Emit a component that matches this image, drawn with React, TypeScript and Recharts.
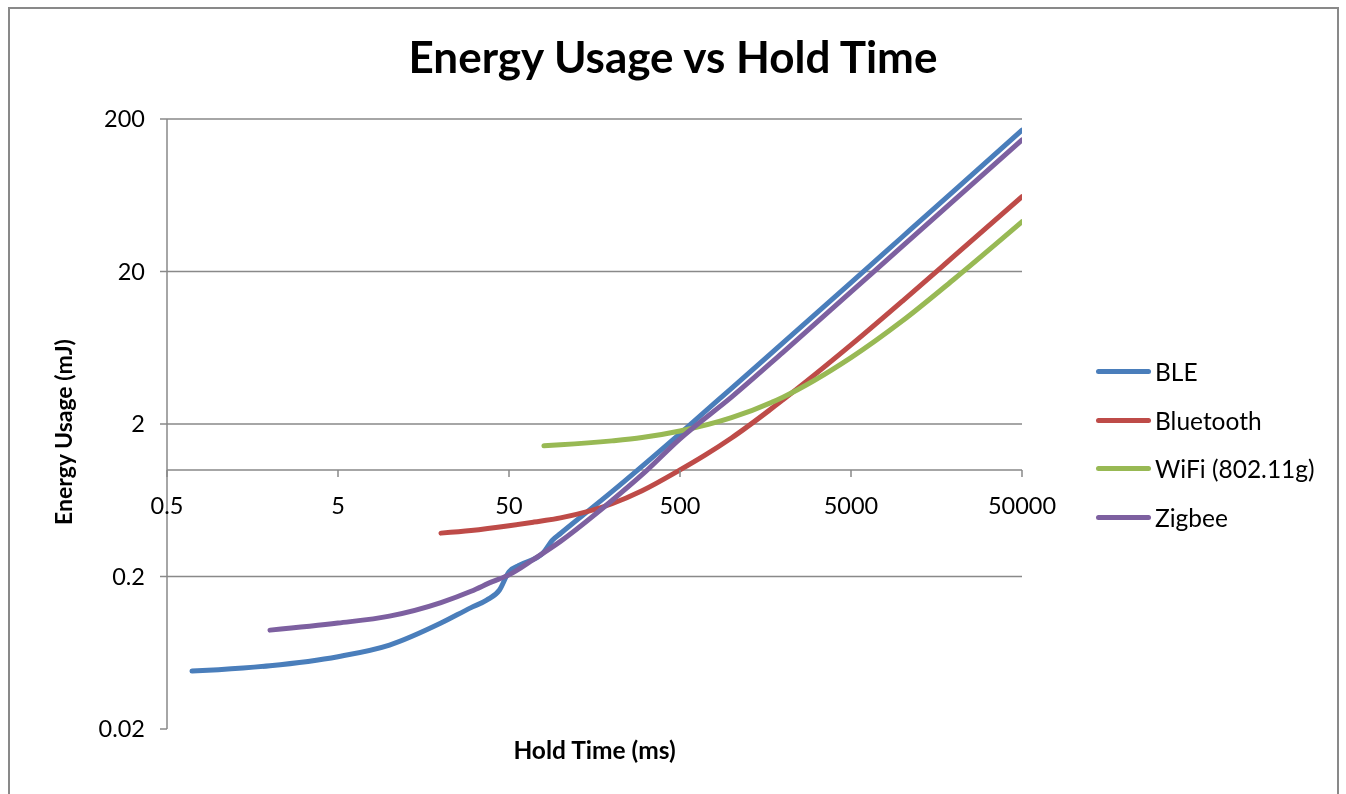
import React from "react"
import { LineChart, Line, XAxis, YAxis, ReferenceLine, ReferenceDot, Legend, Label } from "recharts"

// hold time (ms) / energy (mJ) per radio
const bleHold = [0.7, 1, 2, 5, 10, 20, 30, 37, 44, 50, 58, 79, 90, 100, 200, 500, 1000, 2000, 5000, 10000, 20000, 50000]
const bleEnergy = [0.048, 0.049, 0.052, 0.0596, 0.071, 0.099, 0.125, 0.14, 0.163, 0.215, 0.238, 0.285, 0.347, 0.383, 0.72, 1.73, 3.43, 6.8, 16.9, 33.8, 67.6, 169]

const bluetoothHold = [20, 30, 50, 70, 100, 200, 300, 500, 700, 1000, 2000, 5000, 10000, 20000, 50000]
const bluetoothEnergy = [0.385, 0.4, 0.43, 0.455, 0.485, 0.6, 0.73, 1.0, 1.25, 1.62, 2.88, 6.6, 12.8, 25.2, 62]

const wifiHold = [80, 100, 200, 300, 500, 1000, 2000, 5000, 10000, 20000, 50000]
const wifiEnergy = [1.44, 1.46, 1.55, 1.63, 1.8, 2.2, 3.0, 5.45, 9.5, 17.8, 42.4]

const zigbeeHold = [2, 5, 10, 20, 30, 40, 50, 70, 100, 200, 300, 500, 1000, 2000, 5000, 10000, 20000, 50000]
const zigbeeEnergy = [0.089, 0.099, 0.11, 0.135, 0.16, 0.185, 0.205, 0.26, 0.34, 0.63, 0.93, 1.6, 3.0, 5.9, 14.7, 29.3, 58.5, 146]

const xTicks = [0.5, 5, 50, 500, 5000, 50000]
const yTicks = [0.02, 0.2, 2, 20, 200]
const gridValues = [0.2, 2, 20, 200]

const FONT = "Lato, 'Open Sans', sans-serif"
const AXIS_GRAY = "#898989"

const zip = (hold: number[], energy: number[]) => hold.map((t, i) => ({ t, e: energy[i] }))

const series = [
  { name: "BLE", color: "#4A7EBB", data: zip(bleHold, bleEnergy) },
  { name: "Bluetooth", color: "#BE4B48", data: zip(bluetoothHold, bluetoothEnergy) },
  { name: "WiFi (802.11g)", color: "#98B954", data: zip(wifiHold, wifiEnergy) },
  { name: "Zigbee", color: "#7D60A0", data: zip(zigbeeHold, zigbeeEnergy) },
]

// x axis sits on y = 1, so each tick is a dot on that line
const XTick = (props: any) => {
  const { cx, cy, label } = props
  return (
    <g>
      <line x1={cx} y1={cy} x2={cx} y2={cy + 7} stroke={AXIS_GRAY} strokeWidth={1.5} />
      <text x={cx} y={cy + 44} textAnchor="middle" fontFamily={FONT} fontSize={23.5} fill="#000">
        {label}
      </text>
    </g>
  )
}

const LegendBox = (props: any) => {
  const { payload } = props
  return (
    <div style={{ fontFamily: FONT, fontSize: 24.5, color: "#000" }}>
      {(payload || []).map((p: any) => (
        <div key={p.value} style={{ display: "flex", alignItems: "center", height: 48.7 }}>
          <div style={{ width: 55, height: 5, borderRadius: 3, background: p.color, marginRight: 4 }} />
          <span>{p.value}</span>
        </div>
      ))}
    </div>
  )
}

export default function App() {
  return (
    <div style={{ position: "relative", width: 1330, height: 778 }}>
      <div
        style={{
          position: "fixed",
          left: 8,
          top: 7,
          width: 1331,
          height: 820,
          boxSizing: "border-box",
          borderTop: `2px solid ${AXIS_GRAY}`,
          borderLeft: `2px solid ${AXIS_GRAY}`,
          borderRight: `2px solid ${AXIS_GRAY}`,
          pointerEvents: "none",
        }}
      />
      <div
        style={{
          position: "absolute",
          top: 26,
          left: 0,
          width: 1330,
          textAlign: "center",
          fontFamily: FONT,
          fontWeight: 700,
          fontSize: 44,
          lineHeight: "44px",
          color: "#000",
        }}
      >
        Energy Usage vs Hold Time
      </div>
      <LineChart width={1330} height={778} margin={{ top: 111, right: 316, bottom: 15, left: 0 }}>
        <XAxis
          dataKey="t"
          type="number"
          scale="log"
          domain={[0.5, 50000]}
          allowDataOverflow
          ticks={xTicks}
          tick={false}
          tickLine={false}
          axisLine={false}
          height={42}
        >
          <Label
            content={({ viewBox }: any) => (
              <text
                x={viewBox.x + viewBox.width / 2}
                y={viewBox.y + 30}
                textAnchor="middle"
                fontFamily={FONT}
                fontWeight={700}
                fontSize={24.5}
                fill="#000"
              >
                Hold Time (ms)
              </text>
            )}
          />
        </XAxis>
        <YAxis
          type="number"
          scale="log"
          domain={[0.02, 200]}
          allowDataOverflow
          ticks={yTicks}
          width={159}
          tickSize={7}
          tickMargin={15}
          axisLine={{ stroke: AXIS_GRAY, strokeWidth: 1.5 }}
          tickLine={{ stroke: AXIS_GRAY, strokeWidth: 1.5 }}
          tick={{ fill: "#000", fontFamily: FONT, fontSize: 23.5 }}
        >
          <Label
            content={({ viewBox }: any) => {
              const x = 64
              const y = viewBox.y + viewBox.height / 2 + 8
              return (
                <text
                  x={x}
                  y={y}
                  transform={`rotate(-90, ${x}, ${y})`}
                  textAnchor="middle"
                  fontFamily={FONT}
                  fontWeight={700}
                  fontSize={23}
                  fill="#000"
                >
                  Energy Usage (mJ)
                </text>
              )
            }}
          />
        </YAxis>
        {gridValues.map((v) => (
          <ReferenceLine key={v} y={v} stroke={AXIS_GRAY} strokeWidth={1.5} />
        ))}
        <ReferenceLine y={1} stroke={AXIS_GRAY} strokeWidth={1.5} />
        {xTicks.map((v) => (
          <ReferenceDot key={v} x={v} y={1} r={0} shape={(p: any) => <XTick {...p} label={String(v)} />} />
        ))}
        {series.map((s) => (
          <Line
            key={s.name}
            name={s.name}
            data={s.data}
            dataKey="e"
            type="monotone"
            stroke={s.color}
            strokeWidth={5}
            strokeLinecap="round"
            dot={false}
            activeDot={false}
            isAnimationActive={false}
          />
        ))}
        <Legend
          layout="vertical"
          align="center"
          verticalAlign="middle"
          content={<LegendBox />}
          wrapperStyle={{ left: 1088, top: 339, width: 230 }}
        />
      </LineChart>
    </div>
  )
}
